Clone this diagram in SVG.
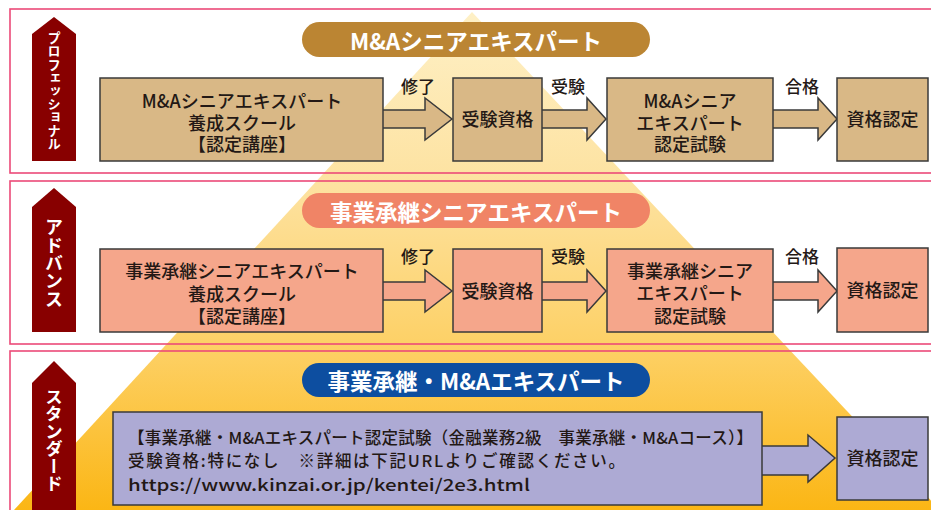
<svg xmlns="http://www.w3.org/2000/svg" width="931" height="510" viewBox="0 0 931 510">
  <defs>
    <linearGradient id="pyr" x1="0" y1="0" x2="0" y2="1">
      <stop offset="0" stop-color="#fef0c6"/>
      <stop offset="0.35" stop-color="#fde2a0"/>
      <stop offset="0.68" stop-color="#fdd064"/>
      <stop offset="1" stop-color="#fbb615"/>
    </linearGradient>
    <style>
      .f { font-family: "Noto Sans CJK JP", "Noto Sans", "Liberation Sans", sans-serif; }
      .panel { fill: none; stroke: #ec4a78; stroke-width: 1.6; }
      .tag { fill: #880000; }
      .vt { fill: #ffffff; font-weight: bold; writing-mode: vertical-rl; text-orientation: upright; text-anchor: middle; }
      .pill-t { fill: #ffffff; font-weight: bold; font-size: 22.5px; text-anchor: middle; dominant-baseline: central; }
      .bx { stroke: #3a3a3a; stroke-width: 1.5; }
      .p1 { fill: #d9b886; }
      .p2 { fill: #f5a68b; }
      .p3 { fill: #adaad4; }
      .t { fill: #231815; font-size: 18px; font-weight: 500; text-anchor: middle; dominant-baseline: central; }
      .lbl { fill: #231815; font-size: 17px; text-anchor: middle; dominant-baseline: central; font-weight: 500; }
      .lt { fill: #231815; font-size: 16.5px; font-weight: 500; dominant-baseline: central; }
    </style>
  </defs>

  <rect width="931" height="510" fill="#ffffff"/>

  <!-- pyramid background -->
  <polygon points="472,12 940,510 14,510" fill="url(#pyr)"/>

  <!-- panel borders -->
  <rect class="panel" x="10" y="9" width="930" height="164"/>
  <rect class="panel" x="10" y="181" width="930" height="163"/>
  <rect class="panel" x="10" y="351" width="930" height="170"/>

  <!-- level tags -->
  <g id="tag-professional">
    <polygon class="tag" points="54,17 76,34 76,161 32,161 32,34"/>
    <text class="f vt" x="54" y="91" font-size="13.2">プロフェッショナル</text>
  </g>
  <g id="tag-advance">
    <polygon class="tag" points="54,188 76,207 76,332 32,332 32,207"/>
    <text class="f vt" x="54" y="263" font-size="18">アドバンス</text>
  </g>
  <g id="tag-standard">
    <polygon class="tag" points="54,361 76,383 76,520 32,520 32,383"/>
    <text class="f vt" x="54" y="440" font-size="17.5">スタンダード</text>
  </g>

  <!-- title pills -->
  <g id="title-ma-senior">
    <rect x="302" y="22" width="348" height="35" rx="17.5" fill="#bb8533"/>
    <text class="f pill-t" x="476" y="39.5">M&amp;Aシニアエキスパート</text>
  </g>
  <g id="title-jigyo-senior">
    <rect x="302" y="193" width="348" height="35" rx="17.5" fill="#f08466"/>
    <text class="f pill-t" x="476" y="210.5">事業承継シニアエキスパート</text>
  </g>
  <g id="title-jigyo-ma">
    <rect x="302" y="363" width="348" height="34" rx="17" fill="#0d4ea0"/>
    <text class="f pill-t" x="476" y="380">事業承継・M&amp;Aエキスパート</text>
  </g>

  <!-- connectors -->
  <g id="connectors">
    <path class="bx p1" d="M383,110 H425 V98 L452,119 L425,140 V128 H383"/>
    <path class="bx p1" d="M542,110 H587 V98 L606,119 L587,140 V128 H542"/>
    <path class="bx p1" d="M773,110 H818 V98 L837,119 L818,140 V128 H773"/>
    <path class="bx p2" d="M383,282 H425 V270 L452,291 L425,312 V300 H383"/>
    <path class="bx p2" d="M542,282 H587 V270 L606,291 L587,312 V300 H542"/>
    <path class="bx p2" d="M773,282 H818 V270 L837,291 L818,312 V300 H773"/>
    <path class="bx p3" d="M762,446 H808 V435 L835,458 L808,482 V475 H762"/>
    <text class="f lbl" x="418" y="85">修了</text>
    <text class="f lbl" x="568" y="85">受験</text>
    <text class="f lbl" x="802" y="85">合格</text>
    <text class="f lbl" x="418" y="255">修了</text>
    <text class="f lbl" x="568" y="255">受験</text>
    <text class="f lbl" x="802" y="255">合格</text>
  </g>

  <!-- professional row -->
  <g id="p-school">
    <rect class="bx p1" x="100" y="78" width="283" height="83"/>
    <text class="f t" x="242" y="100">M&amp;Aシニアエキスパート</text>
    <text class="f t" x="242" y="122">養成スクール</text>
    <text class="f t" x="242" y="143">【認定講座】</text>
  </g>
  <g id="p-qual">
    <rect class="bx p1" x="453" y="78" width="89" height="83"/>
    <text class="f t" x="497.5" y="118">受験資格</text>
  </g>
  <g id="p-exam">
    <rect class="bx p1" x="607" y="78" width="166" height="83"/>
    <text class="f t" x="690" y="100">M&amp;Aシニア</text>
    <text class="f t" x="690" y="122">エキスパート</text>
    <text class="f t" x="690" y="143">認定試験</text>
  </g>
  <g id="p-cert">
    <rect class="bx p1" x="837" y="78" width="91" height="83"/>
    <text class="f t" x="882.5" y="118">資格認定</text>
  </g>

  <!-- advance row -->
  <g id="a-school">
    <rect class="bx p2" x="100" y="249" width="283" height="83"/>
    <text class="f t" x="242" y="270">事業承継シニアエキスパート</text>
    <text class="f t" x="242" y="293">養成スクール</text>
    <text class="f t" x="242" y="315">【認定講座】</text>
  </g>
  <g id="a-qual">
    <rect class="bx p2" x="453" y="249" width="89" height="83"/>
    <text class="f t" x="497.5" y="290">受験資格</text>
  </g>
  <g id="a-exam">
    <rect class="bx p2" x="607" y="249" width="166" height="83"/>
    <text class="f t" x="690" y="270">事業承継シニア</text>
    <text class="f t" x="690" y="292">エキスパート</text>
    <text class="f t" x="690" y="315">認定試験</text>
  </g>
  <g id="a-cert">
    <rect class="bx p2" x="837" y="248" width="91" height="84"/>
    <text class="f t" x="882.5" y="289">資格認定</text>
  </g>

  <!-- standard row -->
  <g id="s-exam">
    <rect class="bx p3" x="113" y="412" width="649" height="93"/>
    <text class="f lt" x="128" y="437" textLength="625" lengthAdjust="spacing">【事業承継・M&amp;Aエキスパート認定試験（金融業務2級　事業承継・M&amp;Aコース）】</text>
    <text class="f lt" x="128" y="460" textLength="497" lengthAdjust="spacing">受験資格:特になし　※詳細は下記URLよりご確認ください。</text>
    <text class="f lt" x="128" y="484" textLength="402" lengthAdjust="spacingAndGlyphs">https://www.kinzai.or.jp/kentei/2e3.html</text>
  </g>
  <g id="s-cert">
    <rect class="bx p3" x="837" y="417" width="91" height="83"/>
    <text class="f t" x="882.5" y="457">資格認定</text>
  </g>
</svg>
